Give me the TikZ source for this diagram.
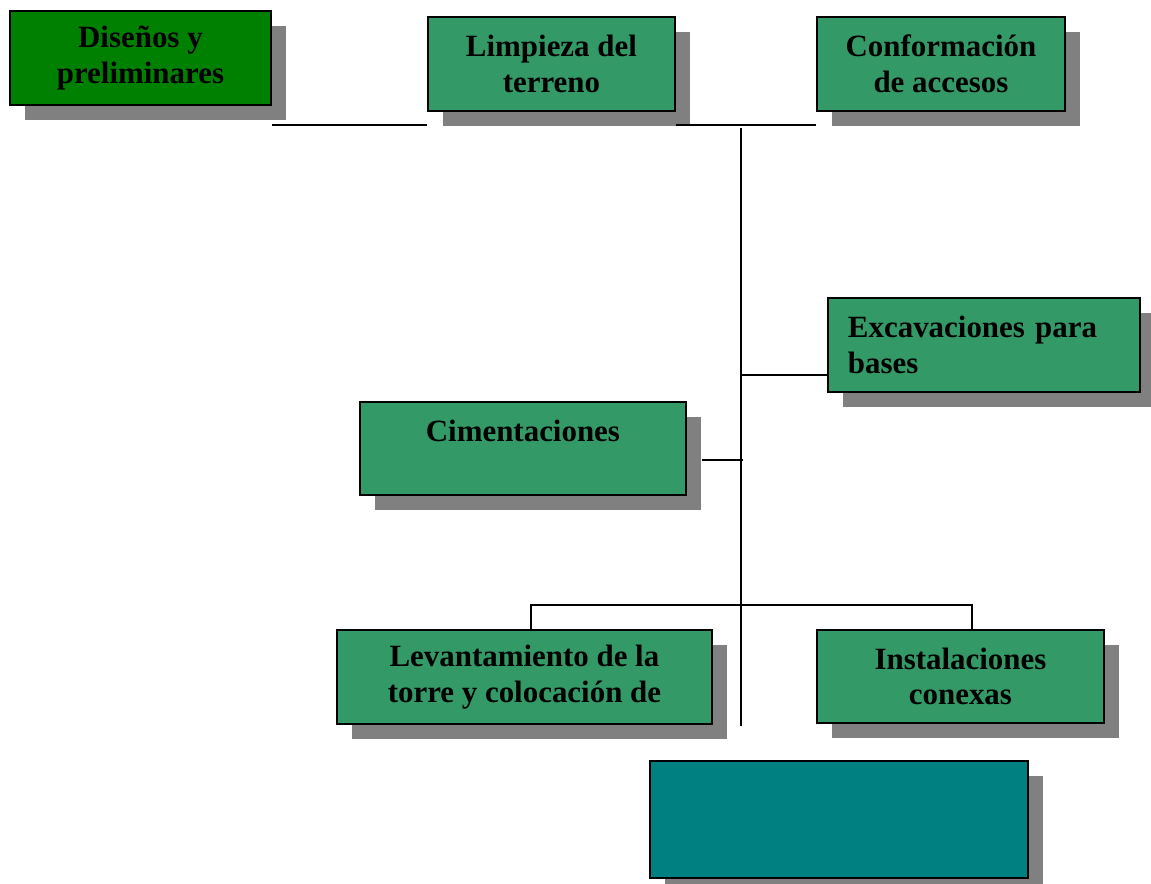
\documentclass[tikz,border=0pt]{standalone}
\usepackage{fontspec}
\setmainfont{Liberation Serif}
\usetikzlibrary{shadows}
\usetikzlibrary{calc}
\definecolor{darkgreen}{HTML}{008000}
\definecolor{seagreen}{HTML}{339966}
\definecolor{tealbox}{HTML}{008080}
\definecolor{shadowgray}{HTML}{808080}

\begin{document}
\begin{tikzpicture}[x=0.02cm, y=-0.02cm,
            box/.style={draw=black, line width=1.1pt, fill=seagreen, anchor=north west, align=center, inner sep=2pt,
                font=\fontsize{17.6}{20.4}\selectfont\bfseries,
                drop shadow={shadow xshift=0.31cm, shadow yshift=-0.31cm, fill=shadowgray, opacity=1}},
            link/.style={black, line width=1.1pt}]
            \useasboundingbox (0,0) rectangle (1151,884);

            \node[box, fill=darkgreen, minimum width=5.22cm, minimum height=1.88cm] (dis) at (9,10) {Diseños y\\preliminares};
            \node[box, minimum width=4.94cm, minimum height=1.88cm] (lim) at (427,16) {Limpieza del\\terreno};
            \node[box, minimum width=4.96cm, minimum height=1.88cm] (con) at (816,16) {Conformación\\de accesos};
            \node[box, align=left, text width=5.44cm, inner xsep=0.4cm, minimum height=1.88cm] (exc) at (827,297) {Excavaciones para\\bases};
            \node[box, minimum width=6.52cm, minimum height=1.86cm, text height=12.5pt, text depth=20pt] (cim) at (359,401) {Cimentaciones};
            \node[box, minimum width=7.50cm, minimum height=1.88cm] (lev) at (336,629) {Levantamiento de la\\torre y colocación de};
            \node[box, minimum width=5.74cm, minimum height=1.86cm] (ins) at (816,629) {Instalaciones\\conexas};
            \node[box, fill=tealbox, minimum width=7.56cm, minimum height=2.34cm] (fin) at (649,760) {};

            \coordinate (ttop) at (741,128);
            \coordinate (tbot) at (741,726);
            \coordinate (jl) at (531,605);
            \coordinate (jr) at (972,605);

            \draw[link] (dis.east |- 0,125) -- (lim.west |- 0,125);
            \draw[link] (lim.east |- 0,125) -- (con.west |- 0,125);
            \draw[link] (ttop) -- (tbot);
            \draw[link] ($(exc.south west)+(0,-18)$) -- (ttop |- {$(exc.south west)+(0,-18)$});
            \draw[link] ($(cim.south east)+(15,-36)$) -- ($(ttop |- {$(cim.south east)+(0,-36)$})+(2,0)$);
            \draw[link] (lev.north -| jl) -- (jl) -- (jr) -- (ins.north -| jr);
        \end{tikzpicture}
\end{document}
